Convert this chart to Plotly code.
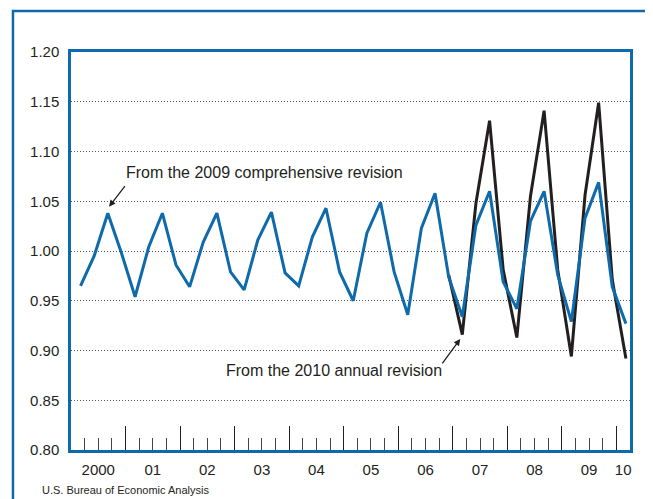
import plotly.graph_objects as go

# ---------------- data ----------------
years = list(range(2000, 2011))
year_labels = ["2000", "01", "02", "03", "04", "05", "06", "07", "08", "09", "10"]

# Quarterly series from the 2009 comprehensive revision, 2000Q1 - 2010Q1
start_year_2009 = 2000
rev2009 = [
    0.965, 0.995, 1.038, 0.998,   # 2000
    0.954, 1.004, 1.038, 0.986,   # 2001
    0.964, 1.009, 1.038, 0.979,   # 2002
    0.961, 1.011, 1.039, 0.978,   # 2003
    0.965, 1.014, 1.043, 0.979,   # 2004
    0.950, 1.018, 1.049, 0.979,   # 2005
    0.936, 1.023, 1.058, 0.974,   # 2006
    0.934, 1.026, 1.060, 0.969,   # 2007
    0.942, 1.030, 1.060, 0.976,   # 2008
    0.929, 1.033, 1.069, 0.964,   # 2009
    0.927,                        # 2010
]

# Quarterly series from the 2010 annual revision, 2006Q4 - 2010Q1
start_2010 = (2006, 4)
rev2010 = [
    0.976,                        # 2006Q4
    0.916, 1.048, 1.131, 0.981,   # 2007
    0.913, 1.055, 1.141, 0.981,   # 2008
    0.894, 1.056, 1.149, 0.971,   # 2009
    0.892,                        # 2010
]

y_ticks = [0.80, 0.85, 0.90, 0.95, 1.00, 1.05, 1.10, 1.15, 1.20]

# ---------------- helpers ----------------
POINT_IN_QUARTER = 0.7   # where inside each quarter the point is drawn
X_MIN, X_MAX = 2000.0, 2010.25


def quarter_x(year, q):
    return year + (q - 1 + POINT_IN_QUARTER) / 4.0


def series_x(start_year, start_q, n):
    xs = []
    y, q = start_year, start_q
    for _ in range(n):
        xs.append(quarter_x(y, q))
        q += 1
        if q > 4:
            q = 1
            y += 1
    return xs


x2009 = series_x(start_year_2009, 1, len(rev2009))
x2010 = series_x(start_2010[0], start_2010[1], len(rev2010))

label_pos = [(y + min(y + 1, X_MAX)) / 2.0 for y in years]
year_bounds = [y for y in years if X_MIN < y < X_MAX]
quarter_bounds = [y + k / 4.0 for y in years for k in (1, 2, 3) if y + k / 4.0 < X_MAX]

BLUE = "#0e6aab"
DARK = "#231f20"
FONT = "Liberation Sans, Arial, sans-serif"

fig = go.Figure()
fig.add_trace(go.Scatter(x=x2010, y=rev2010, mode="lines",
                         line=dict(color=DARK, width=3), showlegend=False,
                         hoverinfo="skip"))
fig.add_trace(go.Scatter(x=x2009, y=rev2009, mode="lines",
                         line=dict(color=BLUE, width=3), showlegend=False,
                         hoverinfo="skip"))
# helper trace so the second x axis (year-boundary ticks) is drawn
fig.add_trace(go.Scatter(x=[X_MIN, X_MAX], y=[1.0, 1.0], mode="markers",
                         marker=dict(opacity=0), xaxis="x2",
                         showlegend=False, hoverinfo="skip"))

# the page body adds an 8px offset, so the figure is 8px smaller
fig.update_layout(
    width=645, height=491,
    margin=dict(l=63, r=23, t=44, b=49),
    paper_bgcolor="white", plot_bgcolor="white",
    font=dict(family=FONT, color=DARK, size=15),
    xaxis=dict(
        range=[X_MIN, X_MAX], tickmode="array", tickvals=label_pos,
        ticktext=year_labels, ticks="", showgrid=False, zeroline=False,
        showline=True, linecolor=BLUE, linewidth=2.5, mirror=True,
        tickfont=dict(size=15, color=DARK), ticklabelstandoff=4,
        minor=dict(tickmode="array", tickvals=quarter_bounds, ticks="inside",
                   ticklen=12, tickcolor="#444", tickwidth=1, showgrid=False),
    ),
    xaxis2=dict(
        range=[X_MIN, X_MAX], overlaying="x", anchor="y", side="bottom",
        tickmode="array", tickvals=year_bounds, ticks="inside", ticklen=24,
        tickcolor=DARK, tickwidth=1, showticklabels=False, showgrid=False,
        zeroline=False, showline=False,
    ),
    yaxis=dict(
        range=[0.80, 1.20], tickmode="array", tickvals=y_ticks,
        ticktext=[f"{v:.2f}" for v in y_ticks], ticks="",
        showgrid=True, gridcolor="#555", griddash="1px,2px", gridwidth=1,
        zeroline=False, showline=True, linecolor=BLUE, linewidth=2.5,
        mirror=True, tickfont=dict(size=15, color=DARK), ticklabelstandoff=6,
    ),
)

# outer frame
fig.add_shape(type="rect", xref="paper", yref="paper",
              x0=-0.1038, x1=1.3, y0=-0.4, y1=1.103,
              line=dict(color=BLUE, width=2.5), layer="below")

# labels and arrows
fig.add_annotation(x=2003.553, y=1.0794, xref="x", yref="y",
                   text="From the 2009 comprehensive revision", showarrow=False,
                   font=dict(size=16, color=DARK, family=FONT))
fig.add_annotation(x=2000.698, y=1.0445, xref="x", yref="y", text="",
                   showarrow=True, ax=17, ay=-22, arrowhead=2, arrowsize=1,
                   arrowwidth=1.3, arrowcolor=DARK, standoff=0, startstandoff=0)
fig.add_annotation(x=2004.827, y=0.8804, xref="x", yref="y",
                   text="From the 2010 annual revision", showarrow=False,
                   font=dict(size=16, color=DARK, family=FONT))
fig.add_annotation(x=2007.137, y=0.9116, xref="x", yref="y", text="",
                   showarrow=True, ax=-19, ay=26, arrowhead=2, arrowsize=1,
                   arrowwidth=1.3, arrowcolor=DARK, standoff=0, startstandoff=0)
fig.add_annotation(x=-0.0555, y=-0.1005, xref="paper", yref="paper",
                   xanchor="left", yanchor="middle", showarrow=False,
                   text="U.S. Bureau of Economic Analysis",
                   font=dict(size=11, color=DARK, family=FONT))

fig.write_html("out.html")
